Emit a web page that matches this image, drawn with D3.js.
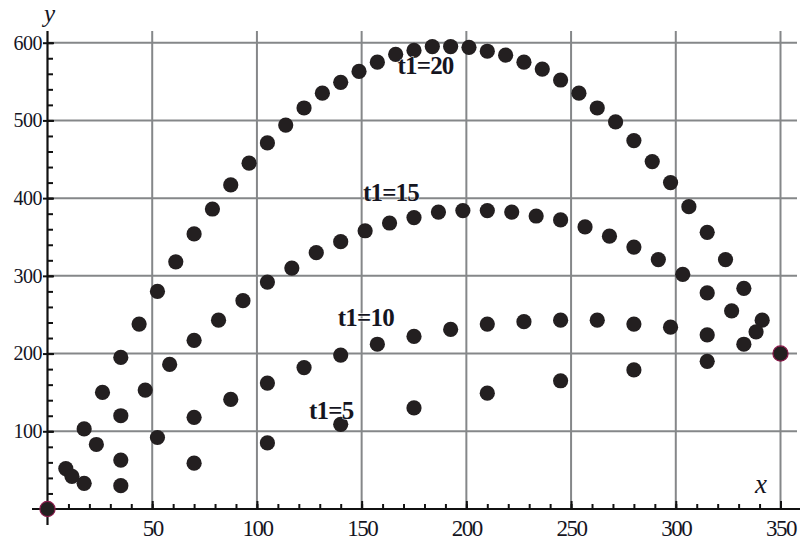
<!DOCTYPE html>
<html>
<head>
<meta charset="utf-8">
<script src="https://cdn.jsdelivr.net/npm/d3@7"></script>
<style>
  html, body { margin: 0; padding: 0; background: #fff; }
  svg { display: block; }
  text { font-family: "Liberation Serif", "DejaVu Serif", serif; fill: #15151f; }
</style>
</head>
<body>
<svg id="chart" width="800" height="540"></svg>
<script>
// --- data (x, y pairs per run)
const t20x = [8.75,17.5,26.25,35,43.75,52.5,61.25,70,78.75,87.5,96.25,105,113.75,122.5,131.25,140,148.75,157.5,166.25,175,
              183.75,192.5,201.25,210,218.75,227.5,236.25,245,253.75,262.5,271.25,280,288.75,297.5,306.25,315,323.75,332.5,341.25];
const t20y = [52,103,150,195,238,280,318,354,386,417,445,471,494,516,535,549,563,575,585,590,
              595,595,594,589,584,575,566,552,535,516,498,474,447,420,389,356,321,284,243];

const t15x = [11.67,23.33,35,46.67,58.33,70,81.67,93.33,105,116.67,128.33,140,151.67,163.33,175,
              186.67,198.33,210,221.67,233.33,245,256.67,268.33,280,291.67,303.33,315,326.67,338.33];
const t15y = [42,83,120,153,186,217,243,268,292,310,330,344,358,368,375,
              382,384,384,382,377,372,363,351,337,321,302,278,255,228];

const t10x = [17.5,35,52.5,70,87.5,105,122.5,140,157.5,175,192.5,210,227.5,245,262.5,280,297.5,315,332.5];
const t10y = [33,63,92,118,141,162,182,198,212,222,231,238,241,243,243,238,234,224,212];

const t5x = [35,70,105,140,175,210,245,280,315];
const t5y = [30,59,85,109,130,149,165,179,190];

// shared start and end point
const endX = [0, 350];
const endY = [0, 200];

const labels = ["t1=20", "t1=15", "t1=10", "t1=5"];
const xTicks = [50,100,150,200,250,300,350];
const yTicks = [100,200,300,400,500,600];

// --- layout
const labelPos = [[180.5, 560], [164, 396], [152, 235.5], [135.5, 116]]; // data units, text baseline
const svg = d3.select("#chart");
const x = d3.scaleLinear().domain([0, 350]).range([47.5, 780.5]);
const y = d3.scaleLinear().domain([0, 600]).range([509, 42.7]);
const GRID = "#858789", INK = "#111";

// grid
const grid = svg.append("g");
grid.selectAll("line.v").data(xTicks).enter().append("line")
  .attr("x1", d => x(d)).attr("x2", d => x(d)).attr("y1", 31).attr("y2", y(0))
  .attr("stroke", GRID).attr("stroke-width", 2);
grid.selectAll("line.h").data(yTicks).enter().append("line")
  .attr("x1", x(0)).attr("x2", 797).attr("y1", d => y(d)).attr("y2", d => y(d))
  .attr("stroke", GRID).attr("stroke-width", 2);

// x axis: minor ticks every 10, major every 50, ticks pointing up
const gx = svg.append("g").attr("transform", `translate(0,${y(0)})`);
gx.call(d3.axisBottom(x).tickValues(d3.range(10, 351, 10)).tickSize(-5).tickFormat(""))
  .call(g => g.select(".domain").remove());
gx.append("g").call(d3.axisBottom(x).tickValues(xTicks).tickSize(-8).tickPadding(11))
  .call(g => g.select(".domain").remove())
  .call(g => g.selectAll(".tick text").attr("fill", "#15151f")
    .style("font-family", '"Liberation Serif", serif').style("font-size", "23px")
    .style("letter-spacing", "-1.5px"));
gx.selectAll(".tick line").attr("stroke", INK).attr("stroke-width", 2);
svg.append("line").attr("x1", 32).attr("x2", 800).attr("y1", y(0)).attr("y2", y(0))
  .attr("stroke", INK).attr("stroke-width", 2.2);

// y axis: minor ticks every 20 to the right, major ticks crossing the axis
const gy = svg.append("g").attr("transform", `translate(${x(0)},0)`);
gy.call(d3.axisLeft(y).tickValues(d3.range(20, 601, 20)).tickSize(-5.5).tickFormat(""))
  .call(g => g.select(".domain").remove());
gy.append("g").call(d3.axisLeft(y).tickValues(yTicks).tickSize(4.5).tickPadding(1))
  .call(g => g.select(".domain").remove())
  .call(g => g.selectAll(".tick line").attr("x2", -4.5).attr("x1", 6.5))
  .call(g => g.selectAll(".tick text").attr("fill", "#15151f")
    .style("font-family", '"Liberation Serif", serif').style("font-size", "20px")
    .style("letter-spacing", "-0.5px"));
gy.selectAll(".tick line").attr("stroke", INK).attr("stroke-width", 2);
svg.append("line").attr("x1", x(0)).attr("x2", x(0)).attr("y1", 31).attr("y2", 525)
  .attr("stroke", INK).attr("stroke-width", 2.2);

// axis names
svg.append("text").attr("x", 44).attr("y", 22).style("font-size", "25px").style("font-style", "italic").text("y");
svg.append("text").attr("x", 755).attr("y", 493).style("font-size", "27px").style("font-style", "italic").text("x");

// points
const series = [[t20x, t20y], [t15x, t15y], [t10x, t10y], [t5x, t5y]];
const dots = svg.append("g");
series.forEach(([xs, ys]) => {
  dots.selectAll(null).data(xs.map((v, i) => [v, ys[i]])).enter().append("circle")
    .attr("cx", d => x(d[0])).attr("cy", d => y(d[1])).attr("r", 7.6).attr("fill", "#231f20");
});
dots.selectAll(null).data(endX.map((v, i) => [v, endY[i]])).enter().append("circle")
  .attr("cx", d => x(d[0])).attr("cy", d => y(d[1])).attr("r", 7.6)
  .attr("fill", "#231f20").attr("stroke", "#8a1b4b").attr("stroke-width", 1.2);

// run labels
svg.append("g").selectAll("text").data(labels).enter().append("text")
  .attr("x", (d, i) => x(labelPos[i][0])).attr("y", (d, i) => y(labelPos[i][1]))
  .attr("text-anchor", "middle")
  .style("font-size", "25px").style("font-weight", "bold").style("letter-spacing", "-0.8px")
  .attr("stroke", "#fff").attr("stroke-width", 0.8).style("paint-order", "stroke")
  .text(d => d);
</script>
</body>
</html>
